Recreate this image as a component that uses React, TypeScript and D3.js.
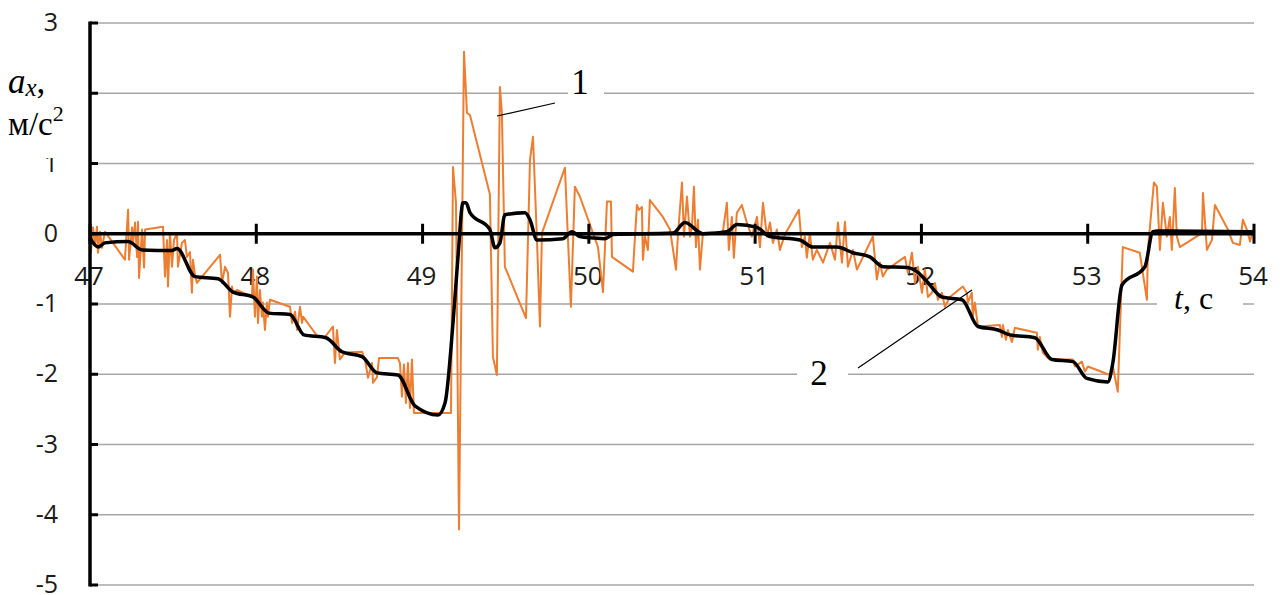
import React from 'react';
import * as d3 from 'd3';

const xTicks = [47, 48, 49, 50, 51, 52, 53, 54];
const yTicks = [3, 2, 1, 0, -1, -2, -3, -4, -5];

// Curve 1: raw longitudinal acceleration (orange)
const rawT = [
  47.000, 47.006, 47.018, 47.030, 47.042, 47.048, 47.060, 47.072, 47.090, 47.210,
  47.229, 47.235, 47.253, 47.259, 47.271, 47.283, 47.289, 47.295, 47.313, 47.325,
  47.331, 47.439, 47.451, 47.463, 47.469, 47.481, 47.493, 47.505, 47.523, 47.529,
  47.553, 47.571, 47.583, 47.601, 47.613, 47.619, 47.631, 47.643, 47.782, 47.794,
  47.812, 47.830, 47.842, 47.854, 47.860, 47.884, 47.974, 47.980, 47.992, 48.004,
  48.010, 48.022, 48.034, 48.040, 48.052, 48.064, 48.070, 48.082, 48.203, 48.215,
  48.233, 48.245, 48.263, 48.275, 48.281, 48.371, 48.413, 48.461, 48.473, 48.485,
  48.491, 48.503, 48.515, 48.533, 48.636, 48.642, 48.654, 48.672, 48.696, 48.702,
  48.726, 48.738, 48.852, 48.864, 48.876, 48.888, 48.900, 48.912, 48.924, 48.936,
  48.948, 49.171, 49.183, 49.201, 49.219, 49.249, 49.267, 49.285, 49.405, 49.423,
  49.447, 49.465, 49.477, 49.495, 49.622, 49.646, 49.664, 49.688, 49.706, 49.718,
  49.856, 49.892, 49.916, 49.946, 50.055, 50.085, 50.109, 50.133, 50.139, 50.265,
  50.289, 50.301, 50.319, 50.325, 50.337, 50.355, 50.367, 50.445, 50.488, 50.524,
  50.536, 50.560, 50.572, 50.590, 50.608, 50.620, 50.632, 50.644, 50.656, 50.668,
  50.686, 50.806, 50.830, 50.842, 50.860, 50.872, 50.890, 50.920, 50.950, 50.980,
  51.011, 51.029, 51.047, 51.071, 51.089, 51.107, 51.131, 51.149, 51.179, 51.263,
  51.281, 51.299, 51.311, 51.329, 51.347, 51.371, 51.408, 51.450, 51.480, 51.498,
  51.522, 51.540, 51.558, 51.588, 51.612, 51.708, 51.732, 51.750, 51.768, 51.792,
  51.901, 51.919, 51.943, 51.961, 51.979, 52.003, 52.021, 52.039, 52.063, 52.081,
  52.099, 52.123, 52.141, 52.171, 52.249, 52.273, 52.279, 52.303, 52.309, 52.321,
  52.340, 52.472, 52.484, 52.490, 52.508, 52.520, 52.544, 52.562, 52.694, 52.700,
  52.712, 52.730, 52.754, 52.772, 52.911, 52.923, 52.965, 52.983, 53.001, 53.133,
  53.151, 53.181, 53.211, 53.313, 53.356, 53.362, 53.398, 53.416, 53.434, 53.452,
  53.476, 53.494, 53.506, 53.524, 53.536, 53.554, 53.687, 53.693, 53.717, 53.747,
  53.765, 53.843, 53.873, 53.915, 53.933, 53.957, 53.976, 53.994,
];
const rawA = [
  0.00, -0.26, 0.09, -0.16, 0.10, -0.27, 0.03, -0.20, 0.03, -0.37,
  0.34, -0.37, 0.09, -0.13, 0.16, -0.33, 0.17, -0.63, 0.06, -0.48,
  0.06, 0.10, -0.61, -0.09, -0.75, 0.01, -0.47, -0.09, 0.01, -0.47,
  -0.13, -0.09, -0.33, -0.26, -0.84, -0.37, -0.58, -0.70, -0.30, -0.70,
  -0.47, -0.56, -1.18, -0.75, -0.84, -0.80, -0.90, -0.51, -1.18, -0.61,
  -1.27, -0.80, -1.18, -0.98, -1.37, -0.98, -1.18, -0.94, -1.04, -1.27,
  -1.11, -1.37, -1.04, -1.27, -1.18, -1.47, -1.47, -1.32, -1.84, -1.37,
  -1.51, -1.79, -1.75, -1.69, -1.68, -1.72, -1.79, -2.05, -1.84, -2.12,
  -2.04, -1.77, -1.77, -1.84, -2.32, -1.86, -2.41, -1.84, -2.48, -1.79,
  -2.55, -2.55, 0.95, 0.44, -4.21, 2.59, 1.72, 1.69, 0.56, -1.75,
  -2.01, 2.09, 1.72, -0.47, -1.20, 1.05, 1.38, -0.09, -1.32, 0.01,
  0.94, -1.04, 0.67, 0.53, -0.19, -0.83, 0.46, 0.46, -0.33, -0.54,
  0.41, 0.34, 0.38, -0.37, -0.04, -0.23, 0.48, 0.24, 0.06, -0.51,
  -0.01, 0.73, -0.04, 0.53, -0.04, 0.10, 0.67, -0.19, 0.20, -0.51,
  0.01, 0.03, 0.44, -0.23, 0.24, -0.34, 0.30, 0.41, 0.16, -0.04,
  0.24, -0.19, 0.44, -0.04, 0.16, -0.13, 0.06, -0.23, -0.01, 0.34,
  -0.19, -0.04, -0.34, 0.01, -0.37, -0.23, -0.41, -0.13, -0.37, 0.16,
  -0.41, 0.17, -0.47, -0.23, -0.51, -0.04, -0.65, -0.41, -0.61, -0.51,
  -0.33, -0.56, -0.27, -0.70, -0.47, -0.84, -0.51, -0.90, -0.84, -0.70,
  -0.94, -0.84, -1.04, -0.90, -0.75, -0.84, -0.98, -0.84, -1.18, -0.98,
  -1.32, -1.30, -1.47, -1.30, -1.51, -1.37, -1.54, -1.34, -1.41, -1.65,
  -1.47, -1.69, -1.75, -1.79, -1.79, -1.89, -1.82, -1.96, -1.89, -2.01,
  -1.89, -2.25, -0.19, -0.27, -0.94, -0.23, 0.73, 0.67, -0.23, 0.44,
  -0.04, 0.24, -0.23, 0.65, -0.04, -0.19, 0.01, 0.58, -0.23, -0.09,
  0.41, 0.06, -0.13, -0.16, 0.20, 0.06, -0.11, 0.06,
];

// Curve 2: smoothed acceleration (black)
const smoothT = [
  47.000, 47.048, 47.090, 47.229, 47.313, 47.493, 47.523, 47.631, 47.770, 47.860,
  47.980, 48.076, 48.203, 48.287, 48.419, 48.515, 48.636, 48.726, 48.852, 48.954,
  49.093, 49.135, 49.183, 49.213, 49.243, 49.261, 49.285, 49.405, 49.435, 49.465,
  49.495, 49.616, 49.646, 49.688, 49.844, 49.898, 49.946, 50.025, 50.097, 50.145,
  50.506, 50.578, 50.686, 50.830, 50.891, 51.011, 51.089, 51.269, 51.348, 51.492,
  51.588, 51.690, 51.769, 51.913, 51.973, 52.033, 52.123, 52.244, 52.340, 52.460,
  52.532, 52.682, 52.785, 52.911, 52.995, 53.121, 53.151, 53.206, 53.344, 53.392,
  53.422, 53.993,
];
const smoothA = [
  -0.06, -0.19, -0.13, -0.11, -0.23, -0.24, -0.21, -0.61, -0.64, -0.83,
  -0.90, -1.13, -1.15, -1.44, -1.48, -1.68, -1.75, -1.98, -2.01, -2.45,
  -2.58, -2.41, -1.27, -0.33, 0.44, 0.44, 0.30, 0.06, -0.20, -0.13,
  0.27, 0.30, 0.20, -0.09, -0.07, 0.03, -0.04, -0.06, -0.07, -0.01,
  0.01, 0.16, 0.00, 0.03, 0.13, 0.09, -0.04, -0.09, -0.19, -0.19,
  -0.27, -0.33, -0.47, -0.48, -0.54, -0.68, -0.90, -0.94, -1.32, -1.37,
  -1.44, -1.48, -1.79, -1.82, -2.06, -2.11, -1.84, -0.73, -0.47, 0.03,
  0.04, 0.03,
];

export default function App() {
  const W = 1283;
  const H = 595;
  const x = d3.scaleLinear().domain([47, 54]).range([90, 1254]);
  const y = d3.scaleLinear().domain([-5, 3]).range([585, 23]);

  const rawLine = d3
    .line<number>()
    .x((_, i) => x(rawT[i]))
    .y((d) => y(d));
  const smoothLine = d3
    .line<number>()
    .x((_, i) => x(smoothT[i]))
    .y((d) => y(d))
    .curve(d3.curveMonotoneX);

  const sans = '"Open Sans", "DejaVu Sans", sans-serif';
  const serif = '"Liberation Serif", "Times New Roman", serif';
  const [x0, x1] = x.range();

  return (
    <svg
      width={W}
      height={H}
      style={{ position: 'absolute', left: 0, top: 0, background: '#fff' }}
    >
      <rect x={0} y={0} width={W} height={H} fill="#fff" />
      {/* gridlines */}
      {yTicks
        .filter((v) => v !== 0)
        .map((v) => (
          <line key={'g' + v} x1={x0} x2={x1} y1={y(v)} y2={y(v)} stroke="#a6a6a6" strokeWidth={1.6} />
        ))}
      {/* label boxes that interrupt gridlines */}
      <rect x={568} y={66} width={36} height={34} fill="#fff" />
      <rect x={797} y={355} width={51} height={36} fill="#fff" />
      <rect x={1157} y={284} width={86} height={32} fill="#fff" />

      {/* y tick labels */}
      {yTicks.map((v) => (
        <text
          key={'yl' + v}
          x={58}
          y={y(v) + 8}
          textAnchor="end"
          fontFamily={sans}
          fontSize={25}
          fill="#1a1a1a"
        >
          {v}
        </text>
      ))}
      {/* x tick labels */}
      {xTicks.map((v) => (
        <text
          key={'xl' + v}
          x={x(v) - 1}
          y={285}
          textAnchor="middle"
          fontFamily={sans}
          fontSize={26}
          fill="#1a1a1a"
        >
          {v}
        </text>
      ))}

      {/* data */}
      <path d={rawLine(rawA) || ''} fill="none" stroke="#ED7D31" strokeWidth={2} strokeLinejoin="round" />

      {/* axes */}
      <line x1={x0} x2={x1} y1={y(0)} y2={y(0)} stroke="#000" strokeWidth={3.5} />
      {xTicks.map((v) => (
        <line key={'xt' + v} x1={x(v)} x2={x(v)} y1={y(0) - 10} y2={y(0) + 10} stroke="#000" strokeWidth={3} />
      ))}
      <line x1={x0} x2={x0} y1={y(3) - 1.5} y2={y(-5) + 1.5} stroke="#000" strokeWidth={3.5} />
      {yTicks.map((v) => (
        <line key={'yt' + v} x1={x0} x2={x0 + 8} y1={y(v)} y2={y(v)} stroke="#000" strokeWidth={3} />
      ))}

      <path d={smoothLine(smoothA) || ''} fill="none" stroke="#000" strokeWidth={3.5} strokeLinejoin="round" />

      {/* axis title box (covers tick labels behind it) */}
      <rect x={0} y={62} width={80} height={96} fill="#fff" />
      <text x={8} y={93} fontFamily={serif} fontSize={35} fontStyle="italic" fill="#000">
        a
        <tspan fontSize={25} dy={3}>x</tspan>
        <tspan fontStyle="normal" dy={-3}>,</tspan>
      </text>
      <text x={8} y={135} fontFamily={serif} fontSize={33} fill="#000">
        м/с
        <tspan fontSize={22} dy={-14}>2</tspan>
      </text>
      <text x={1174} y={309} fontFamily={serif} fontSize={32} fill="#000">
        <tspan fontStyle="italic">t</tspan>, с
      </text>

      {/* annotations */}
      <text x={580} y={94} textAnchor="middle" fontFamily={serif} fontSize={35} fill="#000">
        1
      </text>
      <line x1={497} y1={116} x2={555} y2={103} stroke="#000" strokeWidth={1.2} />
      <text x={819} y={385} textAnchor="middle" fontFamily={serif} fontSize={35} fill="#000">
        2
      </text>
      <line x1={858} y1={368} x2={972} y2={290} stroke="#000" strokeWidth={1.2} />
    </svg>
  );
}
